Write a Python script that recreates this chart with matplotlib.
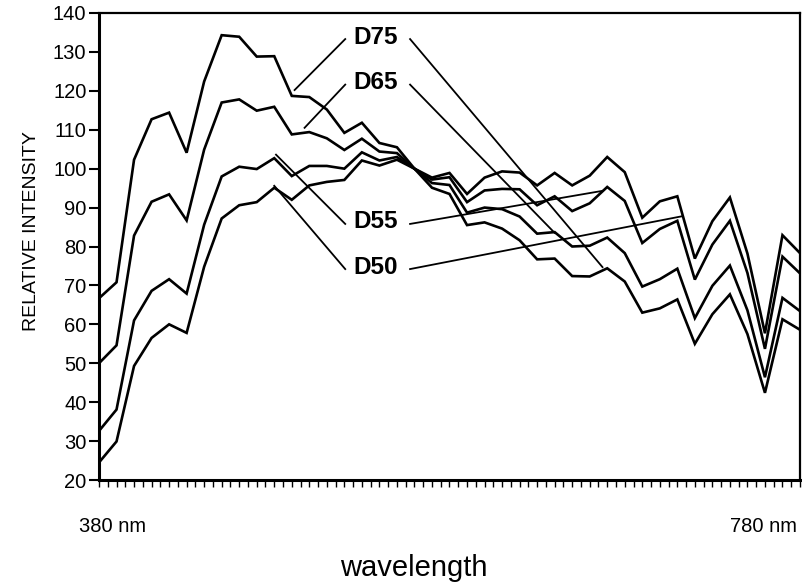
import matplotlib
matplotlib.use("Agg")
import matplotlib.pyplot as plt
import numpy as np

plt.rcParams['font.family'] = ['Liberation Sans', 'DejaVu Sans']

wavelength = list(range(380, 781, 10))

d50 = [24.5, 29.9, 49.3, 56.5, 60.0, 57.8, 74.8, 87.2, 90.6, 91.4, 95.1, 92.0, 95.7, 96.6,
       97.1, 102.1, 100.8, 102.3, 100.0, 97.7, 98.9, 93.5, 97.7, 99.3, 99.0, 95.7, 98.9,
       95.7, 98.2, 103.0, 99.1, 87.4, 91.6, 92.9, 76.9, 86.5, 92.6, 78.2, 57.7, 82.9, 78.3]
d55 = [32.6, 38.1, 61.0, 68.6, 71.6, 67.9, 85.6, 98.0, 100.5, 99.9, 102.7, 98.1, 100.7, 100.7,
       100.0, 104.2, 102.1, 103.0, 100.0, 97.2, 97.8, 91.4, 94.4, 94.8, 94.7, 90.6, 92.9,
       89.1, 91.1, 95.3, 91.7, 80.9, 84.5, 86.6, 71.5, 80.5, 86.6, 73.2, 53.7, 77.4, 73.1]
d65 = [50.0, 54.6, 82.8, 91.5, 93.4, 86.7, 104.9, 117.0, 117.8, 114.9, 115.9, 108.8, 109.4, 107.8,
       104.8, 107.7, 104.4, 104.0, 100.0, 96.3, 95.8, 88.7, 90.0, 89.6, 87.7, 83.3, 83.7,
       80.0, 80.2, 82.3, 78.3, 69.7, 71.6, 74.3, 61.6, 69.9, 75.1, 63.6, 46.4, 66.8, 63.4]
d75 = [66.7, 70.8, 102.3, 112.7, 114.4, 104.1, 122.4, 134.3, 133.9, 128.8, 128.9, 118.7, 118.4, 115.2,
       109.2, 111.8, 106.6, 105.5, 100.0, 95.1, 93.5, 85.5, 86.2, 84.6, 81.6, 76.7, 76.9,
       72.4, 72.3, 74.4, 71.0, 63.0, 64.1, 66.4, 55.0, 62.6, 67.7, 57.5, 42.4, 61.3, 58.6]

series = [d50, d55, d65, d75]
label_names = ["D75", "D65", "D55", "D50"]
label_y = [133.8, 122.1, 86.3, 74.7]
left_ends = [(491.6, 120.2), (497.3, 110.5), (481.0, 103.6), (480.0, 95.6)]
right_ends = [(667.3, 74.7), (640.0, 83.5), (667.3, 94.3), (713.0, 87.8)]
y_ticks = list(range(20, 141, 10))

fig = plt.figure(figsize=(8.02, 5.88), dpi=100)
ax = fig.add_axes([99 / 802, 1 - 480 / 588, (800 - 99) / 802, (480 - 13) / 588])

for s in series:
    ax.plot(wavelength, s, color='black', lw=1.9, solid_joinstyle='miter')

label_x = 537.8
left_x = 520.5
right_x = 557.5
for name, ly, le, re in zip(label_names, label_y, left_ends, right_ends):
    ax.text(label_x, ly, name, ha='center', va='center', fontsize=17.5,
            fontweight='bold', color='black')
    ax.plot([left_x, le[0]], [ly - 0.5, le[1]], color='black', lw=1.3)
    ax.plot([right_x, re[0]], [ly - 0.5, re[1]], color='black', lw=1.3)

ax.set_xlim(380, 780)
ax.set_ylim(20, 140)
ax.set_yticks(y_ticks)
ax.set_yticklabels([str(v) for v in y_ticks], fontsize=14.5)
ax.set_xticks(np.arange(380, 781, 5))
ax.set_xticklabels([])
ax.tick_params(axis='y', direction='out', length=7, width=1.5, pad=2)
ax.tick_params(axis='x', direction='out', length=5, width=1.0)

for side in ['left', 'bottom']:
    ax.spines[side].set_linewidth(2.2)
for side in ['top', 'right']:
    ax.spines[side].set_linewidth(1.6)

fig.text(32 / 802, 1 - 231 / 588, "RELATIVE INTENSITY", rotation=90,
         ha='center', va='center', fontsize=14)
fig.text(113 / 802, 1 - 527 / 588, "380 nm", ha='center', va='center', fontsize=14.5)
fig.text(763 / 802, 1 - 526 / 588, "780 nm", ha='center', va='center', fontsize=14.5)
fig.text(414 / 802, 1 - 568 / 588, "wavelength", ha='center', va='center', fontsize=21)

fig.savefig("out.png", dpi=100)
